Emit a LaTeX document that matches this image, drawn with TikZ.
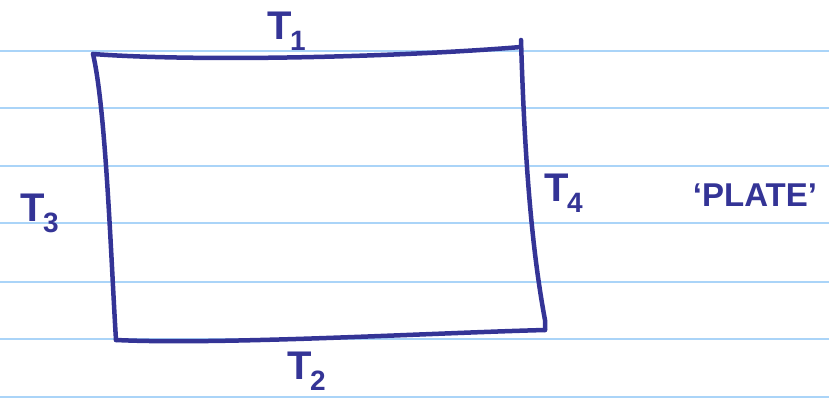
\documentclass[tikz,border=0pt]{standalone}
\usepackage{fontspec}
\setmainfont{Liberation Sans}
\usepackage{xcolor}
\definecolor{inkblue}{RGB}{52,52,150}
\definecolor{ruleblue}{RGB}{170,212,248}
\usepackage{tikz}
\usetikzlibrary{positioning}

\newcommand{\tlabel}[1]{T\kern-2pt\textsubscript{#1}}

\begin{document}
\begin{tikzpicture}[
  x=1pt, y=-1pt,
  rule/.style={ruleblue, line width=2pt},
  edge/.style={inkblue, line width=4.5pt, line cap=round, line join=round},
  lbl/.style={inkblue, inner sep=0pt, font=\fontsize{40}{46}\selectfont\bfseries}
]
  \useasboundingbox (0,0) rectangle (829,398);

  % Ruled paper
  \foreach \y in {50.7,108.3,165.7,223.3,281.7,339.3,396.7}
    \draw[rule] (0,\y) -- (829,\y);

  % Corners of the plate
  \coordinate (tl) at (93,54);
  \coordinate (tr) at (521,47);
  \coordinate (br) at (545,330);
  \coordinate (bl) at (116,340);

  % Plate edges
  \draw[edge] (tl) .. controls (200,62) and (400,57) .. (tr);
  \draw[edge] (521,40) .. controls (524,140) and (530,240) .. (545,320) -- (br);
  \draw[edge] (br) .. controls (430,333) and (220,345) .. (bl);
  \draw[edge] (bl) .. controls (111,260) and (106,110) .. (tl);

  % Temperature labels
  \node[lbl] (t1) at (287,31) {\tlabel{1}};
  \node[lbl] (t2) at (307,371) {\tlabel{2}};
  \node[lbl] (t3) at (40,213) {\tlabel{3}};
  \node[lbl] (t4) at (564,193) {\tlabel{4}};
  \node[lbl, font=\fontsize{33}{38}\selectfont\bfseries] (plate) at (755,195) {`PLATE'};
\end{tikzpicture}
\end{document}
